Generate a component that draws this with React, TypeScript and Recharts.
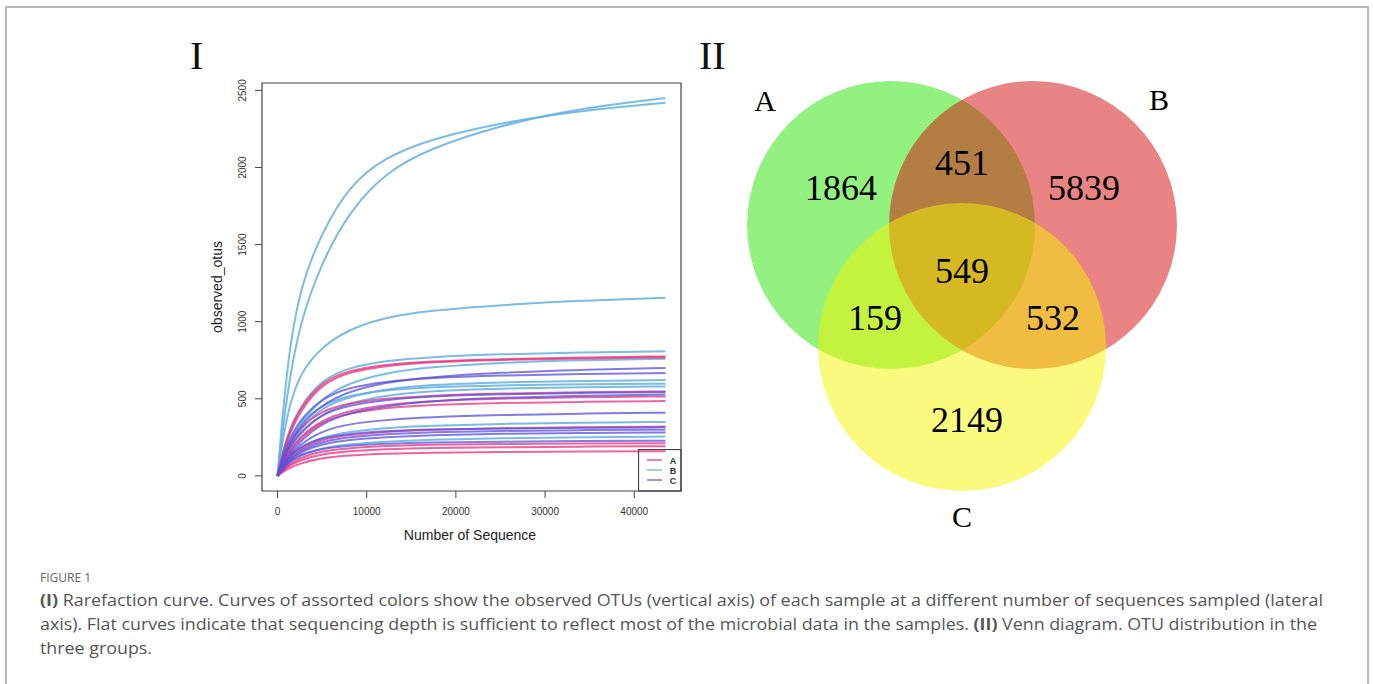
import React from 'react';
import { LineChart, Line, XAxis, YAxis, ReferenceArea, ScatterChart, Scatter } from 'recharts';

// ---------- Panel I: rarefaction curves ----------
const seqDepth = [0, 1000, 2500, 5000, 8000, 12000, 17000, 25000, 34000, 43500];
const xTicks = [0, 10000, 20000, 30000, 40000];
const yTicks = [0, 500, 1000, 1500, 2000, 2500];
const groupNames = ['A', 'B', 'C'];
const groupColors = ['#e8307c', '#62b0e0', '#5a4fe0'];

const curvesA: number[][] = [
  [0, 250, 440, 612, 684, 722, 743, 758, 768, 775],
  [0, 230, 420, 598, 674, 714, 738, 753, 762, 768],
  [0, 175, 315, 424, 472, 501, 521, 535, 543, 548],
  [0, 135, 255, 364, 422, 461, 486, 502, 510, 515],
  [0, 125, 245, 354, 407, 441, 461, 474, 480, 485],
  [0, 95, 175, 238, 267, 286, 299, 310, 316, 320],
  [0, 62, 118, 162, 181, 194, 202, 207, 210, 212],
  [0, 57, 103, 142, 161, 173, 181, 186, 190, 192],
  [0, 42, 82, 117, 134, 145, 151, 155, 158, 160],
];
const curvesB: number[][] = [
  [0, 700, 1230, 1580, 1880, 2065, 2182, 2290, 2370, 2420],
  [0, 520, 1000, 1390, 1710, 1965, 2122, 2275, 2385, 2450],
  [0, 400, 670, 840, 950, 1028, 1072, 1108, 1137, 1155],
  [0, 260, 450, 626, 703, 747, 771, 790, 800, 808],
  [0, 185, 345, 505, 603, 667, 706, 735, 750, 760],
  [0, 165, 305, 444, 513, 562, 591, 607, 616, 622],
  [0, 195, 345, 463, 522, 556, 576, 588, 594, 598],
  [0, 145, 275, 404, 472, 521, 551, 567, 575, 580],
  [0, 98, 184, 253, 287, 311, 326, 338, 345, 350],
  [0, 72, 133, 182, 206, 223, 235, 245, 251, 255],
];
const curvesC: number[][] = [
  [0, 175, 325, 464, 548, 607, 641, 670, 688, 700],
  [0, 205, 365, 504, 573, 612, 636, 652, 661, 667],
  [0, 155, 285, 404, 458, 492, 516, 530, 539, 544],
  [0, 115, 225, 344, 408, 452, 486, 508, 520, 528],
  [0, 105, 205, 293, 337, 363, 381, 395, 404, 410],
  [0, 110, 190, 248, 274, 290, 301, 308, 312, 315],
  [0, 88, 164, 223, 252, 271, 284, 292, 297, 300],
  [0, 83, 154, 208, 234, 251, 264, 273, 279, 282],
  [0, 78, 139, 178, 197, 209, 217, 222, 226, 228],
];

const groups = [curvesA, curvesB, curvesC];

const rareData = seqDepth.map((x, i) => {
  const row: Record<string, number> = { x };
  groups.forEach((g, gi) => g.forEach((c, ci) => { row[`${groupNames[gi]}${ci}`] = c[i]; }));
  return row;
});

// draw order B, A, C for layering like the original
const drawOrder = [1, 0, 2];

const X_DOMAIN: [number, number] = [-1740, 45240];
const Y_DOMAIN: [number, number] = [-98, 2548];

const FONT_SANS = '"Liberation Sans", Arial, Helvetica, sans-serif';
const FONT_SERIF = '"Liberation Serif", "Times New Roman", serif';

const YTick = (props: any) => {
  const { y, payload } = props;
  const bx = 246;
  return (
    <text x={bx} y={y} transform={`rotate(-90, ${bx}, ${y})`} textAnchor="middle"
      fontSize={10} fill="#333" fontFamily={FONT_SANS}>{payload.value}</text>
  );
};
const XTick = (props: any) => {
  const { x, payload } = props;
  return (
    <text x={x} y={515} textAnchor="middle" fontSize={10} fill="#333" fontFamily={FONT_SANS}>{payload.value}</text>
  );
};

// ---------- Panel II: Venn diagram ----------
const vennSets = ['A', 'B', 'C'];
const vennColors = ['#26e400', '#d60a0a', '#f5f500'];
const vennRegions = ['A only', 'A∩B', 'B only', 'A∩B∩C', 'A∩C', 'B∩C', 'C only'];
const vennCounts = [1864, 451, 5839, 549, 159, 532, 2149];

// layout (unit = distance between circle A and B centres)
const vennCircleLayout = [
  { x: -0.5, y: 0 },
  { x: 0.5, y: 0 },
  { x: 0, y: -0.859 },
];
const vennRadius = 1.014;
const vennCountLayout = [
  { x: -0.852, y: 0.261 },
  { x: 0, y: 0.437 },
  { x: 0.859, y: 0.261 },
  { x: 0, y: -0.324 },
  { x: -0.613, y: -0.655 },
  { x: 0.641, y: -0.655 },
  { x: 0.035, y: -1.373 },
];
const vennSetLabelLayout = [
  { x: -1.387, y: 0.88 },
  { x: 1.387, y: 0.887 },
  { x: 0, y: -2.056 },
];

const VENN_W = 540;
const VENN_H = 480;
const V_X: [number, number] = [-1.8451, 1.9577];
const V_Y: [number, number] = [-2.2183, 1.162];
const PX_PER_UNIT = VENN_W / (V_X[1] - V_X[0]);

const circleData = vennSets.map((s, i) => ({ name: s, x: vennCircleLayout[i].x, y: vennCircleLayout[i].y }));
const countData = vennRegions.map((r, i) => ({ name: r, value: vennCounts[i], x: vennCountLayout[i].x, y: vennCountLayout[i].y }));
const setLabelData = vennSets.map((s, i) => ({ name: s, x: vennSetLabelLayout[i].x, y: vennSetLabelLayout[i].y }));

const captionLine1 = ' Rarefaction curve. Curves of assorted colors show the observed OTUs (vertical axis) of each sample at a different number of sequences sampled (lateral';
const captionLine2a = 'axis). Flat curves indicate that sequencing depth is sufficient to reflect most of the microbial data in the samples. ';
const captionLine2b = ' Venn diagram. OTU distribution in the';
const captionLine3 = 'three groups.';

export default function App() {
  return (
    <div style={{ position: 'absolute', left: 0, top: 0, width: 1373, height: 684, background: '#fff', overflow: 'hidden' }}>
      <div style={{ position: 'absolute', left: 5, top: 6, width: 1364, height: 720, border: '2px solid #b8b8b8', boxSizing: 'border-box' }} />

      {/* panel labels */}
      <div style={{ position: 'absolute', left: 190, top: 34, fontFamily: FONT_SERIF, fontSize: 40, lineHeight: '44px', color: '#111' }}>I</div>
      <div style={{ position: 'absolute', left: 699, top: 34, fontFamily: FONT_SERIF, fontSize: 40, lineHeight: '44px', color: '#111' }}>II</div>

      {/* Panel I */}
      <div style={{ position: 'absolute', left: 0, top: 0 }}>
        <LineChart width={700} height={560} data={rareData} margin={{ top: 83, right: 19, bottom: 39, left: 200 }}>
          <XAxis dataKey="x" type="number" domain={X_DOMAIN} allowDataOverflow ticks={xTicks}
            axisLine={false} tickSize={7} tickLine={{ stroke: '#444' }} tick={<XTick />} height={30} interval={0} />
          <YAxis type="number" domain={Y_DOMAIN} allowDataOverflow ticks={yTicks}
            axisLine={false} tickSize={7} tickLine={{ stroke: '#444' }} tick={<YTick />} width={62} interval={0} />
          {drawOrder.map((gi) =>
            groups[gi].map((_, ci) => (
              <Line key={`${groupNames[gi]}${ci}`} dataKey={`${groupNames[gi]}${ci}`} type="basis"
                stroke={groupColors[gi]} strokeWidth={2} strokeOpacity={gi === 1 ? 0.85 : 0.75}
                dot={false} activeDot={false} isAnimationActive={false} />
            ))
          )}
          <ReferenceArea x1={X_DOMAIN[0]} x2={X_DOMAIN[1]} y1={Y_DOMAIN[0]} y2={Y_DOMAIN[1]}
            fill="none" fillOpacity={0} stroke="#444" strokeWidth={1.2} ifOverflow="visible" />
        </LineChart>
      </div>

      {/* axis titles */}
      <div style={{ position: 'absolute', left: 217, top: 287, transform: 'translate(-50%, -50%) rotate(-90deg)', fontFamily: FONT_SANS, fontSize: 14, color: '#222', whiteSpace: 'nowrap' }}>observed_otus</div>
      <div style={{ position: 'absolute', left: 470, top: 535, transform: 'translate(-50%, -50%)', fontFamily: FONT_SANS, fontSize: 14, color: '#222', whiteSpace: 'nowrap' }}>Number of Sequence</div>

      {/* R-style legend */}
      <svg style={{ position: 'absolute', left: 638, top: 449 }} width={44} height={43}>
        <rect x={0.5} y={0.5} width={42.5} height={41.5} fill="none" stroke="#444" strokeWidth={1.2} />
        {groupNames.map((g, i) => (
          <g key={g}>
            <line x1={9} x2={24} y1={11 + i * 10} y2={11 + i * 10} stroke={groupColors[i]} strokeWidth={1.5} strokeOpacity={0.8} />
            <text x={35} y={14.5 + i * 10} textAnchor="middle" fontSize={9} fontWeight="bold" fill="#333" fontFamily={FONT_SANS}>{g}</text>
          </g>
        ))}
      </svg>

      {/* Panel II */}
      <div style={{ position: 'absolute', left: 700, top: 60 }}>
        <ScatterChart width={VENN_W} height={VENN_H} margin={{ top: 0, right: 0, bottom: 0, left: 0 }}>
          <XAxis dataKey="x" type="number" domain={V_X} hide allowDataOverflow />
          <YAxis dataKey="y" type="number" domain={V_Y} hide allowDataOverflow />
          {circleData.map((c, i) => (
            <Scatter key={c.name} data={[c]} isAnimationActive={false}
              shape={(p: any) => <circle cx={p.cx} cy={p.cy} r={vennRadius * PX_PER_UNIT} fill={vennColors[i]} fillOpacity={0.5} />} />
          ))}
          <Scatter data={countData} isAnimationActive={false}
            shape={(p: any) => <text x={p.cx} y={p.cy} textAnchor="middle" dominantBaseline="central" fontSize={36} fontFamily={FONT_SERIF} fill="#000">{p.payload.value}</text>} />
          <Scatter data={setLabelData} isAnimationActive={false}
            shape={(p: any) => <text x={p.cx} y={p.cy} textAnchor="middle" dominantBaseline="central" fontSize={30} fontFamily={FONT_SERIF} fill="#000">{p.payload.name}</text>} />
        </ScatterChart>
      </div>

      {/* caption */}
      <svg style={{ position: 'absolute', left: 0, top: 560 }} width={1373} height={124}>
        <text x={40} y={22} fontSize={12} fill="#666" fontFamily='"Open Sans", sans-serif'>FIGURE 1</text>
        <text x={40} y={46} fontSize={16} fill="#555" fontFamily='"Open Sans", sans-serif' textLength={1283} lengthAdjust="spacingAndGlyphs">
          <tspan fontWeight="bold">(I)</tspan>{captionLine1}
        </text>
        <text x={40} y={70} fontSize={16} fill="#555" fontFamily='"Open Sans", sans-serif' textLength={1277} lengthAdjust="spacingAndGlyphs">
          {captionLine2a}<tspan fontWeight="bold">(II)</tspan>{captionLine2b}
        </text>
        <text x={40} y={94} fontSize={16} fill="#555" fontFamily='"Open Sans", sans-serif' textLength={112} lengthAdjust="spacingAndGlyphs">{captionLine3}</text>
      </svg>
    </div>
  );
}
